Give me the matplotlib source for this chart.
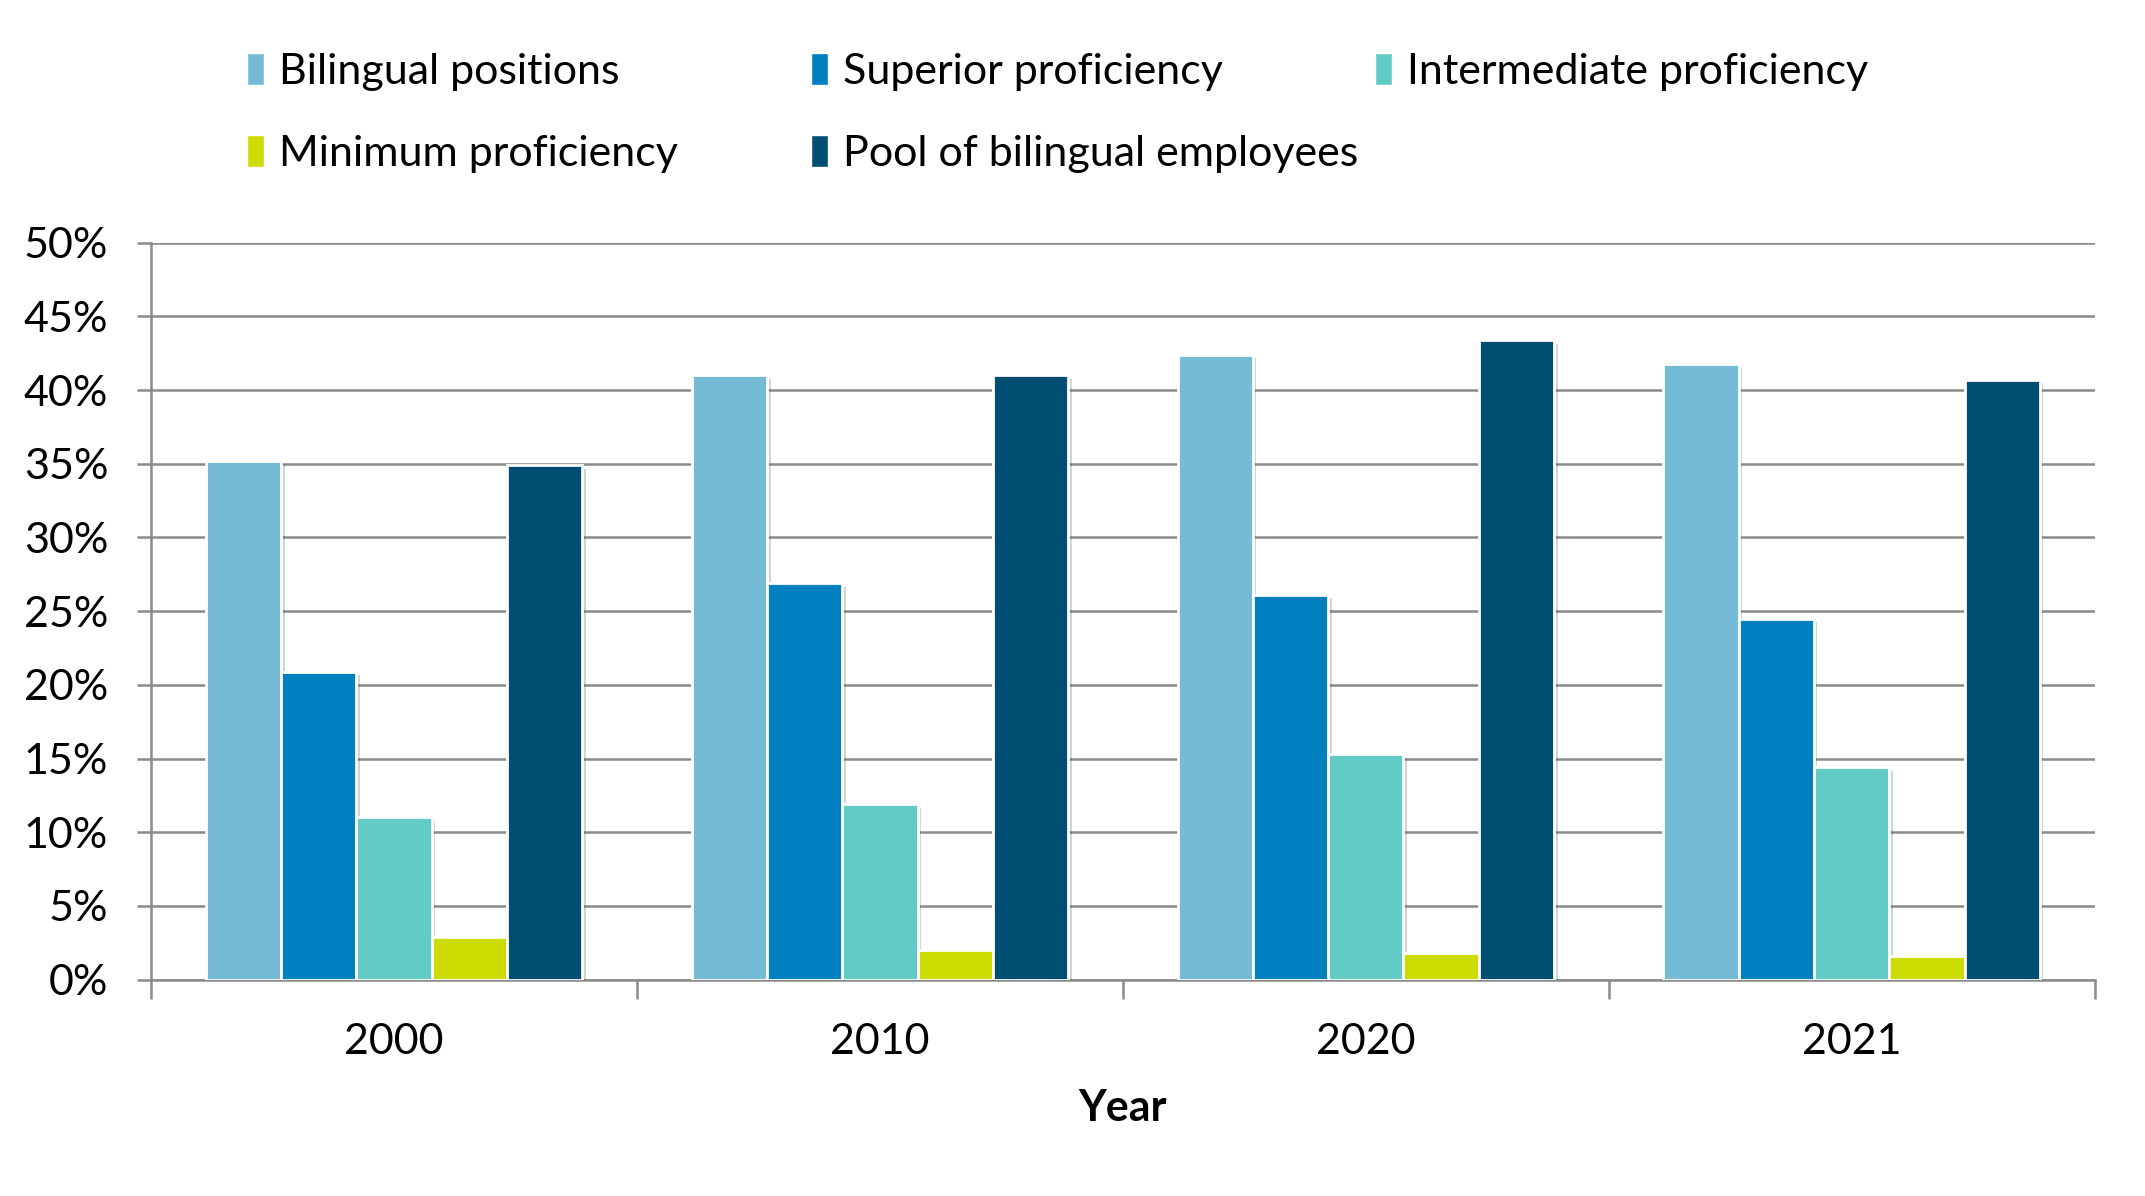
import numpy as np
import matplotlib.pyplot as plt
import matplotlib.patheffects as pe
from matplotlib.patches import Patch
from matplotlib.ticker import FuncFormatter, FixedLocator

plt.rcParams["font.family"] = ["Lato", "DejaVu Sans"]

# ── data ───────────────────────────────────────────────────────────────────
years = ["2000", "2010", "2020", "2021"]
bilingual_positions = [35.2, 41.0, 42.4, 41.8]
superior_proficiency = [20.9, 26.9, 26.1, 24.5]
intermediate_proficiency = [11.0, 11.9, 15.3, 14.4]
minimum_proficiency = [2.9, 2.0, 1.8, 1.6]
pool_bilingual = [34.9, 41.0, 43.4, 40.7]

series_names = ["Bilingual positions", "Superior proficiency",
                "Intermediate proficiency", "Minimum proficiency",
                "Pool of bilingual employees"]
series_values = [bilingual_positions, superior_proficiency,
                 intermediate_proficiency, minimum_proficiency, pool_bilingual]
colors = ["#76BBD6", "#0080C1", "#62CBC6", "#CCDC00", "#004E72"]

FS = 31
grid_col = "#8A8A8A"

fig = plt.figure(figsize=(21.45, 11.96), dpi=100)
ax = fig.add_axes([0.0705, 0.181, 0.906, 0.616])

x = np.arange(len(years))
bw = 0.155
shadow = [pe.SimplePatchShadow(offset=(2.5, -2.5), alpha=0.25, shadow_rgbFace="#555555"),
          pe.Normal()]
for i, (vals, col) in enumerate(zip(series_values, colors)):
    bars = ax.bar(x + (i - 2) * bw, vals, width=bw, color=col,
                  edgecolor="white", linewidth=2, zorder=3)
    for b in bars:
        b.set_path_effects(shadow)

ax.set_ylim(0, 50)
ax.set_xlim(-0.5, len(years) - 0.5)
ax.set_yticks(np.arange(0, 51, 5))
ax.yaxis.set_major_formatter(FuncFormatter(lambda v, p: f"{v:.0f}%"))
ax.yaxis.grid(True, color=grid_col, linewidth=1.8, zorder=0)
ax.set_axisbelow(True)

# category boundaries as major ticks, labels at centres via minor ticks
ax.xaxis.set_major_locator(FixedLocator(np.arange(-0.5, len(years), 1.0)))
ax.xaxis.set_minor_locator(FixedLocator(x))
ax.set_xticklabels([], minor=False)
ax.set_xticklabels(years, minor=True)
ax.tick_params(axis="x", which="major", length=14, width=1.8, color=grid_col)
ax.tick_params(axis="x", which="minor", length=0, pad=31, labelsize=FS)
ax.tick_params(axis="y", length=10, width=1.8, color=grid_col, pad=21, labelsize=FS)

for s in ["top", "right"]:
    ax.spines[s].set_visible(False)
for s in ["left", "bottom"]:
    ax.spines[s].set_color(grid_col)
    ax.spines[s].set_linewidth(1.8)

ax.set_xlabel("Year", fontsize=FS, fontweight="bold", labelpad=20)

# legend laid out in fixed columns like the original
leg_pos = [(0.115, 0.940), (0.378, 0.940), (0.641, 0.940),
           (0.115, 0.871), (0.378, 0.871)]
for name, col, (lx, ly) in zip(series_names, colors, leg_pos):
    h = Patch(facecolor=col, edgecolor="white")
    fig.legend([h], [name], loc="center left", bbox_to_anchor=(lx, ly),
               frameon=False, fontsize=FS, handlelength=0.4, handleheight=0.75,
               handletextpad=0.35, borderpad=0, borderaxespad=0)

fig.savefig("out.png", dpi=100)
